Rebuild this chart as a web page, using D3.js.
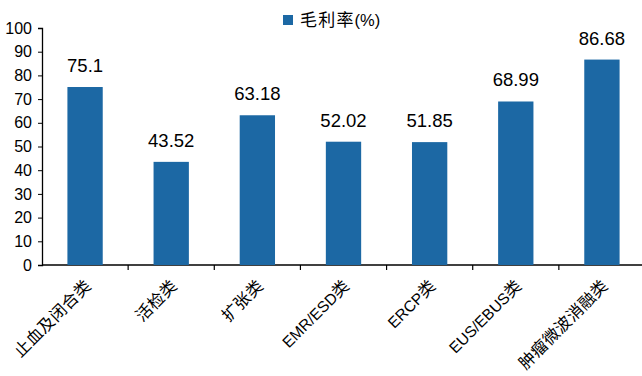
<!DOCTYPE html>
<html>
<head>
<meta charset="utf-8">
<script src="https://cdn.jsdelivr.net/npm/d3@7"></script>
<style>
  body { margin: 0; background: #fff; }
  svg { display: block; }
</style>
</head>
<body>
<svg id="chart" width="642" height="376"></svg>
<script>
// chart data
const categories = ['止血及闭合类', '活检类', '扩张类', 'EMR/ESD类', 'ERCP类', 'EUS/EBUS类', '肿瘤微波消融类'];
const margins = [75.1, 43.52, 63.18, 52.02, 51.85, 68.99, 86.68];
const labels = ['75.1', '43.52', '63.18', '52.02', '51.85', '68.99', '86.68'];
const yTicks = [0, 10, 20, 30, 40, 50, 60, 70, 80, 90, 100];
const seriesName = '毛利率(%)';

const barColor = '#1c68a4';
const latin = 'Arial, "Liberation Sans", sans-serif';
const cjk = '"Noto Sans CJK SC", sans-serif';

// split a label into CJK / latin runs so each gets its own size
const runs = s => s.match(/[\u4e00-\u9fff]+|[^\u4e00-\u9fff]+/g);
const isCjk = s => /[\u4e00-\u9fff]/.test(s);

function fillRuns(sel, latinSize, cjkSize, spacing) {
  sel.each(function (d) {
    const t = d3.select(this);
    runs(d).forEach(r => {
      t.append('tspan')
        .attr('font-family', isCjk(r) ? cjk : latin)
        .attr('font-size', isCjk(r) ? cjkSize : latinSize)
        .attr('letter-spacing', isCjk(r) ? spacing : 0)
        .text(r);
    });
  });
}

const svg = d3.select('#chart');

const x = d3.scaleBand()
  .domain(categories)
  .range([42, 645])
  .paddingInner(0.59)
  .paddingOuter(0.295);

const y = d3.scaleLinear()
  .domain([0, 100])
  .range([265, 28]);

// axes
const yAxis = d3.axisLeft(y).tickValues(yTicks).tickSize(4).tickPadding(6);
const yG = svg.append('g').attr('transform', 'translate(42,0)').call(yAxis);
yG.select('.domain').attr('stroke', '#000').attr('stroke-width', 1.3);
yG.selectAll('text').attr('font-family', latin).attr('font-size', 16).attr('fill', '#000');

const xBoundary = d3.scaleLinear().domain([0, categories.length]).range(x.range());
const xG = svg.append('g').attr('transform', 'translate(0,265)');
xG.append('line')
  .attr('x1', 42).attr('x2', 645)
  .attr('stroke', '#000').attr('stroke-width', 1.3);
xG.selectAll('line.tick')
  .data(d3.range(1, categories.length))
  .enter()
  .append('line')
  .attr('class', 'tick')
  .attr('x1', d => xBoundary(d)).attr('x2', d => xBoundary(d))
  .attr('y1', 0).attr('y2', 5)
  .attr('stroke', '#000').attr('stroke-width', 1.2);

// bars
svg.selectAll('rect.bar')
  .data(categories)
  .enter()
  .append('rect')
  .attr('class', 'bar')
  .attr('x', d => x(d))
  .attr('width', x.bandwidth())
  .attr('y', (d, i) => y(margins[i]))
  .attr('height', (d, i) => y(0) - y(margins[i]))
  .attr('fill', barColor);

// value labels
svg.selectAll('text.val')
  .data(categories)
  .enter()
  .append('text')
  .attr('class', 'val')
  .attr('x', d => x(d) + x.bandwidth() / 2)
  .attr('y', (d, i) => y(margins[i]) - 15)
  .attr('text-anchor', 'middle')
  .attr('font-family', latin)
  .attr('font-size', 18.5)
  .attr('fill', '#000')
  .text((d, i) => labels[i]);

// category labels, rotated
svg.selectAll('text.cat')
  .data(categories)
  .enter()
  .append('text')
  .attr('class', 'cat')
  .attr('transform', d => `translate(${x(d) + x.bandwidth() / 2 + 3},${283}) rotate(-45)`)
  .attr('text-anchor', 'end')
  .attr('dy', '0.35em')
  .attr('fill', '#000')
  .call(fillRuns, 15.5, 16.5, 0.3);

// legend
const legend = svg.append('g').attr('transform', 'translate(283,14)');
legend.append('rect').attr('width', 10).attr('height', 10).attr('y', 1).attr('fill', barColor);
legend.append('text')
  .datum(seriesName)
  .attr('x', 17).attr('y', 11.5)
  .attr('fill', '#000')
  .call(fillRuns, 16.5, 17, 1.2);
</script>
</body>
</html>
